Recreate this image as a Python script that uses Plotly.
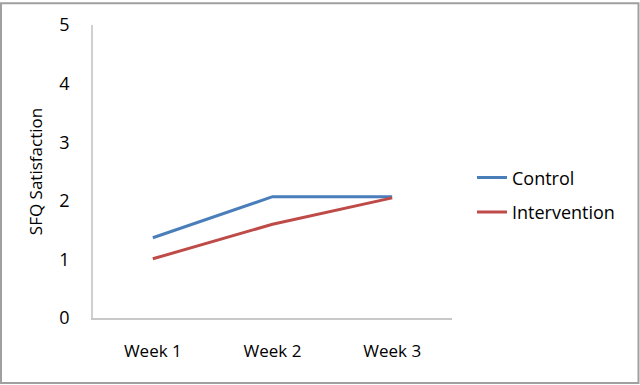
import plotly.graph_objects as go

weeks = ["Week 1", "Week 2", "Week 3"]
control = [1.37, 2.07, 2.07]
intervention = [1.01, 1.6, 2.05]
y_ticks = [0, 1, 2, 3, 4, 5]

W, H = 640, 385
ml, mr, mt, mb = 93, 188, 23, 67
pw, ph = W - ml - mr, H - mt - mb

fig = go.Figure()
fig.add_trace(go.Scatter(x=weeks, y=control, mode="lines", name="Control",
                         legendgroup="c", line=dict(color="#4a7ebb", width=3)))
fig.add_trace(go.Scatter(x=weeks, y=intervention, mode="lines", name="Intervention",
                         legendgroup="i", line=dict(color="#be4b48", width=3)))

font_family = "Open Sans, Liberation Sans, Arial, sans-serif"
fig.update_layout(
    width=W, height=H,
    margin=dict(l=ml, r=mr, t=mt, b=mb),
    paper_bgcolor="white", plot_bgcolor="white",
    font=dict(family=font_family, size=17, color="#000000"),
    xaxis=dict(showgrid=False, zeroline=False, showline=True, linecolor="#c8c8c8",
               linewidth=1.5, ticks="", tickfont=dict(size=17), ticklabelstandoff=17,
               range=[-0.5, 2.5]),
    yaxis=dict(showgrid=False, zeroline=False, showline=True, linecolor="#d0d0d0",
               linewidth=1.5, ticks="", range=[0, 5], tickvals=y_ticks,
               tickfont=dict(size=18), ticklabelstandoff=18,
               title=dict(text="SFQ Satisfaction", font=dict(size=17), standoff=12)),
    legend=dict(x=(472 - ml) / pw, y=(318 - 194) / ph, xanchor="left", yanchor="middle",
                font=dict(size=18), itemwidth=30, tracegroupgap=8,
                traceorder="grouped", bgcolor="rgba(0,0,0,0)"),
    showlegend=True,
)

# outer border
fig.add_shape(type="rect", xref="paper", yref="paper",
              x0=(1 - ml) / pw, x1=(W - 1.5 - ml) / pw,
              y0=-(mb - 1.5) / ph, y1=1 + (mt - 1) / ph,
              line=dict(color="#a0a0a0", width=2), fillcolor="rgba(0,0,0,0)", layer="below")

fig.write_html("out.html", config={"displayModeBar": False},
               post_script="document.body.style.margin='0';")
